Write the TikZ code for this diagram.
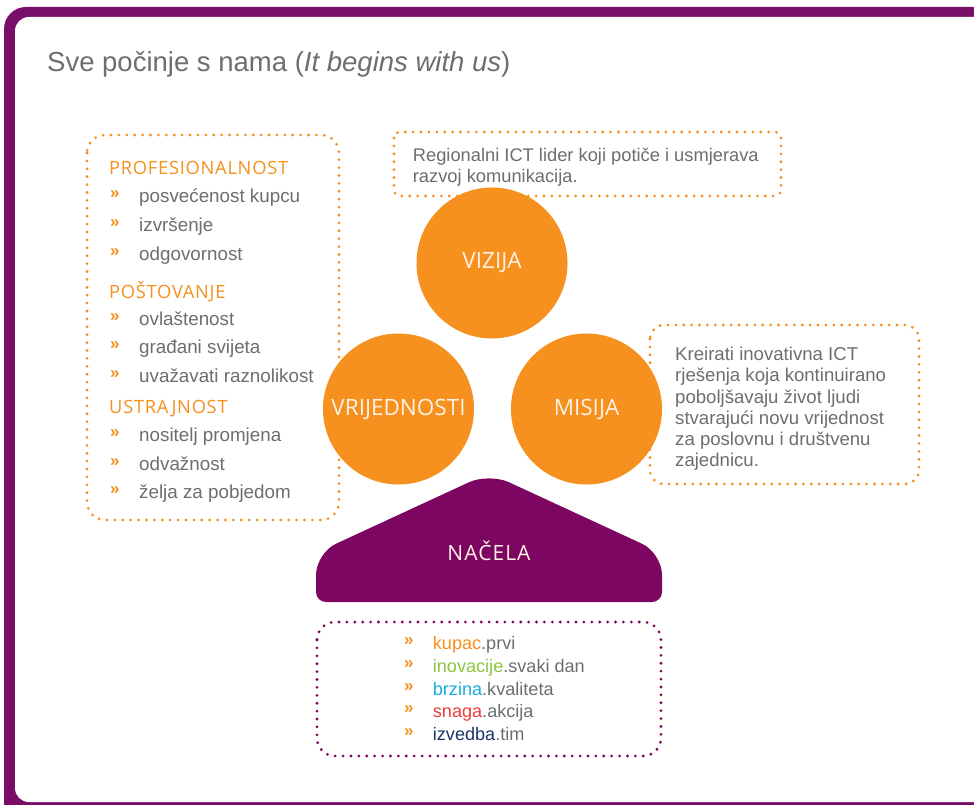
\documentclass[tikz,border=0pt]{standalone}
\usepackage{fontspec}
\setmainfont{Liberation Sans}
\newfontfamily\lightsans{Open Sans}
\definecolor{framepurple}{RGB}{120,14,104}
\definecolor{napurple}{RGB}{124,6,98}
\definecolor{tor}{HTML}{F6901E}
\definecolor{tgreen}{HTML}{8CC63E}
\definecolor{tcyan}{HTML}{17AEDF}
\definecolor{tred}{HTML}{EE3E3E}
\definecolor{tnavy}{HTML}{1C3668}
\definecolor{tgray}{HTML}{6D6E71}
\definecolor{cream}{HTML}{FFF2E4}
\begin{document}
\begin{tikzpicture}[x=1pt,y=-1pt,
  odots/.style={draw=tor,line width=3.1pt,line cap=round,dash pattern=on 0pt off 7.9pt},
  pdots/.style={draw=napurple,line width=3.1pt,line cap=round,dash pattern=on 0pt off 7.9pt},
  body/.style={inner sep=0pt,anchor=base west,text=tgray,font=\fontsize{18.8}{22}\selectfont},
  vis/.style={body,font=\fontsize{18.3}{22}\selectfont},
  mis/.style={body,font=\fontsize{18.6}{22}\selectfont},
  low/.style={body,font=\fontsize{18.1}{22}\selectfont},
  bul/.style={inner sep=0pt,anchor=base west,text=tor,font=\fontsize{17}{17}\selectfont\bfseries},
  head/.style={inner sep=0pt,anchor=base west,text=tor,font=\lightsans\fontsize{18.3}{20}\selectfont\addfontfeature{LetterSpace=4}},
  ball/.style={circle,fill=tor,minimum size=151pt,inner sep=0pt,text=cream,font=\lightsans\fontsize{22.5}{24}\selectfont}]
\useasboundingbox (0,0) rectangle (974,805);
\clip (0,0) rectangle (974,805);
% frame
\fill[framepurple,rounded corners=22pt] (4,7) rectangle (1000,830);
\fill[white,rounded corners=14pt] (15,17) rectangle (990,802);
% title
\node[body,font=\fontsize{27.5}{30}\selectfont] (title) at (47,72) {Sve počinje s nama (\textit{It begins with us})};
% dotted boxes
\draw[odots,rounded corners=18pt] (87,135) rectangle (339,520);
\draw[odots,rounded corners=6pt] (394,132) rectangle (781,196);
\draw[odots,rounded corners=14pt] (650,325) rectangle (919,484);
\draw[pdots,rounded corners=18pt] (317,622) rectangle (661,756);
% left list
\node[head] (h1) at (109,174.3) {PROFESIONALNOST};
\node[head] (h2) at (109,298.3) {POŠTOVANJE};
\node[head] (h3) at (109,413.3) {USTRAJNOST};
\foreach \yy/\tt [count=\i] in {202.7/posvećenost kupcu,231.7/izvršenje,260/odgovornost,325/ovlaštenost,353.3/građani svijeta,382.7/uvažavati raznolikost,441.7/nositelj promjena,470/odvažnost,498.3/želja za pobjedom}{
  \node[bul] (lb\i) at (110,\yy-4) {»};
  \node[body] (li\i) at (139,\yy) {\tt};
}
% vision box
\node[vis] (v1) at (412.7,161.7) {Regionalni ICT lider koji potiče i usmjerava};
\node[vis] (v2) at (412.7,182.3) {razvoj komunikacija.};
% mission box
\foreach \tt [count=\i] in {Kreirati inovativna ICT,rješenja koja kontinuirano,poboljšavaju život ljudi,stvarajući novu vrijednost,za poslovnu i društvenu,zajednicu.}{
  \node[mis] (m\i) at (675,360.7+21.2*\i-21.2) {\tt};
}
% circles
\node[ball] (vizija) at (492,263) {VIZIJA};
\node[ball] (vrijednosti) at (398.5,409) {VRIJEDNOSTI};
\node[ball] (misija) at (586.5,409) {MISIJA};
% nacela shape
\fill[napurple,rounded corners=10pt] (400,602) -- (662,602) [rounded corners=22pt] -- (662,553) -- (489,473) -- (316,553) [rounded corners=10pt] -- (316,602) -- (400,602);
\node[inner sep=0pt,anchor=base,text=cream,font=\lightsans\fontsize{21}{22}\selectfont\addfontfeature{LetterSpace=5}] (nacela) at (489,560.7) {NAČELA};
% bottom list
\node[bul] (b1) at (404,649.3-4) {»};
\node[low] (n1) at (432.7,649.3) {\textcolor{tor}{kupac}.prvi};
\node[bul] (b2) at (404,672.2-4) {»};
\node[low] (n2) at (432.7,672.2) {\textcolor{tgreen}{inovacije}.svaki dan};
\node[bul] (b3) at (404,695-4) {»};
\node[low] (n3) at (432.7,695) {\textcolor{tcyan}{brzina}.kvaliteta};
\node[bul] (b4) at (404,717.8-4) {»};
\node[low] (n4) at (432.7,717.8) {\textcolor{tred}{snaga}.akcija};
\node[bul] (b5) at (404,740.7-4) {»};
\node[low] (n5) at (432.7,740.7) {\textcolor{tnavy}{izvedba}.tim};
\end{tikzpicture}
\end{document}
